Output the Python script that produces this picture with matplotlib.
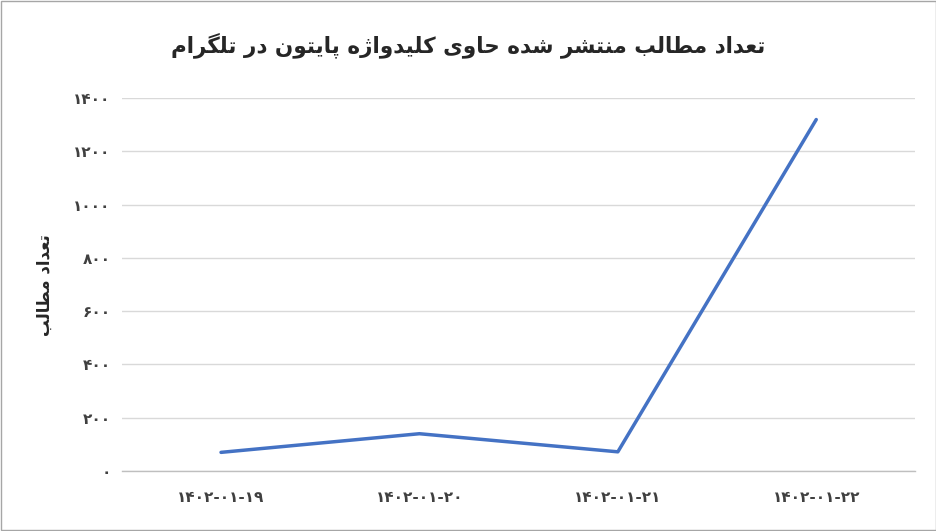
import matplotlib
matplotlib.use("Agg")
import matplotlib.pyplot as plt

TITLE = "تعداد مطالب منتشر شده حاوی کلیدواژه پایتون در تلگرام"
Y_LABEL = "تعداد مطالب"
dates = ["۱۴۰۲-۰۱-۱۹", "۱۴۰۲-۰۱-۲۰", "۱۴۰۲-۰۱-۲۱", "۱۴۰۲-۰۱-۲۲"]
counts = [70, 140, 72, 1320]
y_ticks = [0, 200, 400, 600, 800, 1000, 1200, 1400]

# isolated, final, initial, medial (None -> letter joins only to the right)
FORMS = {
    "ا": (0xFE8D, 0xFE8E, None, None),
    "ب": (0xFE8F, 0xFE90, 0xFE91, 0xFE92),
    "پ": (0xFB56, 0xFB57, 0xFB58, 0xFB59),
    "ت": (0xFE95, 0xFE96, 0xFE97, 0xFE98),
    "ح": (0xFEA1, 0xFEA2, 0xFEA3, 0xFEA4),
    "د": (0xFEA9, 0xFEAA, None, None),
    "ر": (0xFEAD, 0xFEAE, None, None),
    "ز": (0xFEAF, 0xFEB0, None, None),
    "ژ": (0xFB8A, 0xFB8B, None, None),
    "ش": (0xFEB5, 0xFEB6, 0xFEB7, 0xFEB8),
    "ط": (0xFEC1, 0xFEC2, 0xFEC3, 0xFEC4),
    "ع": (0xFEC9, 0xFECA, 0xFECB, 0xFECC),
    "ک": (0xFB8E, 0xFB8F, 0xFB90, 0xFB91),
    "گ": (0xFB92, 0xFB93, 0xFB94, 0xFB95),
    "ل": (0xFEDD, 0xFEDE, 0xFEDF, 0xFEE0),
    "م": (0xFEE1, 0xFEE2, 0xFEE3, 0xFEE4),
    "ن": (0xFEE5, 0xFEE6, 0xFEE7, 0xFEE8),
    "ه": (0xFEE9, 0xFEEA, 0xFEEB, 0xFEEC),
    "و": (0xFEED, 0xFEEE, None, None),
    "ی": (0xFBFC, 0xFBFD, 0xFBFE, 0xFBFF),
}


def shape(text):
    # crude Persian shaping + reversal to visual order (no bidi library here)
    out = []
    for i, ch in enumerate(text):
        if ch not in FORMS:
            out.append(ch)
            continue
        prev = text[i - 1] if i > 0 else ""
        nxt = text[i + 1] if i + 1 < len(text) else ""
        join_prev = prev in FORMS and FORMS[prev][2] is not None
        join_next = nxt in FORMS and FORMS[ch][2] is not None
        iso, fin, ini, med = FORMS[ch]
        if join_prev and join_next:
            code = med
        elif join_prev:
            code = fin
        elif join_next:
            code = ini
        else:
            code = iso
        out.append(chr(code))
    return "".join(reversed(out))


plt.rcParams["font.family"] = ["DejaVu Sans"]

fig, ax = plt.subplots(figsize=(9.37, 5.31), dpi=100)
fig.subplots_adjust(left=0.13, right=0.977, top=0.815, bottom=0.113)

x = range(len(dates))
ax.plot(x, counts, color="#4472C4", linewidth=2.5, solid_capstyle="round")

ax.set_xlim(-0.5, len(dates) - 0.5)
ax.set_ylim(0, 1400)
ax.set_yticks(y_ticks)
ax.set_yticklabels([str(v).translate(str.maketrans("0123456789", "۰۱۲۳۴۵۶۷۸۹")) for v in y_ticks])
ax.set_xticks(list(x))
ax.set_xticklabels(dates)

ax.grid(axis="y", color="#D9D9D9", linewidth=1)
ax.set_axisbelow(True)
for side in ("top", "right", "left"):
    ax.spines[side].set_visible(False)
ax.spines["bottom"].set_color("#BFBFBF")
ax.spines["bottom"].set_linewidth(1)
ax.tick_params(axis="both", length=0, labelsize=11, colors="#404040")
ax.tick_params(axis="y", pad=8)
ax.tick_params(axis="x", pad=14)
for lbl in ax.get_xticklabels() + ax.get_yticklabels():
    lbl.set_fontweight("bold")

ax.set_ylabel(shape(Y_LABEL), fontsize=12, fontweight="bold", color="#262626", labelpad=14)
fig.suptitle(shape(TITLE), fontsize=15.5, fontweight="bold", color="#262626", y=0.94)

fig.patches.append(plt.Rectangle((0.001, 0.001), 0.998, 0.998, transform=fig.transFigure,
                                 fill=False, edgecolor="#A6A6A6", linewidth=1))

fig.savefig("out.png", dpi=100, facecolor="white")
